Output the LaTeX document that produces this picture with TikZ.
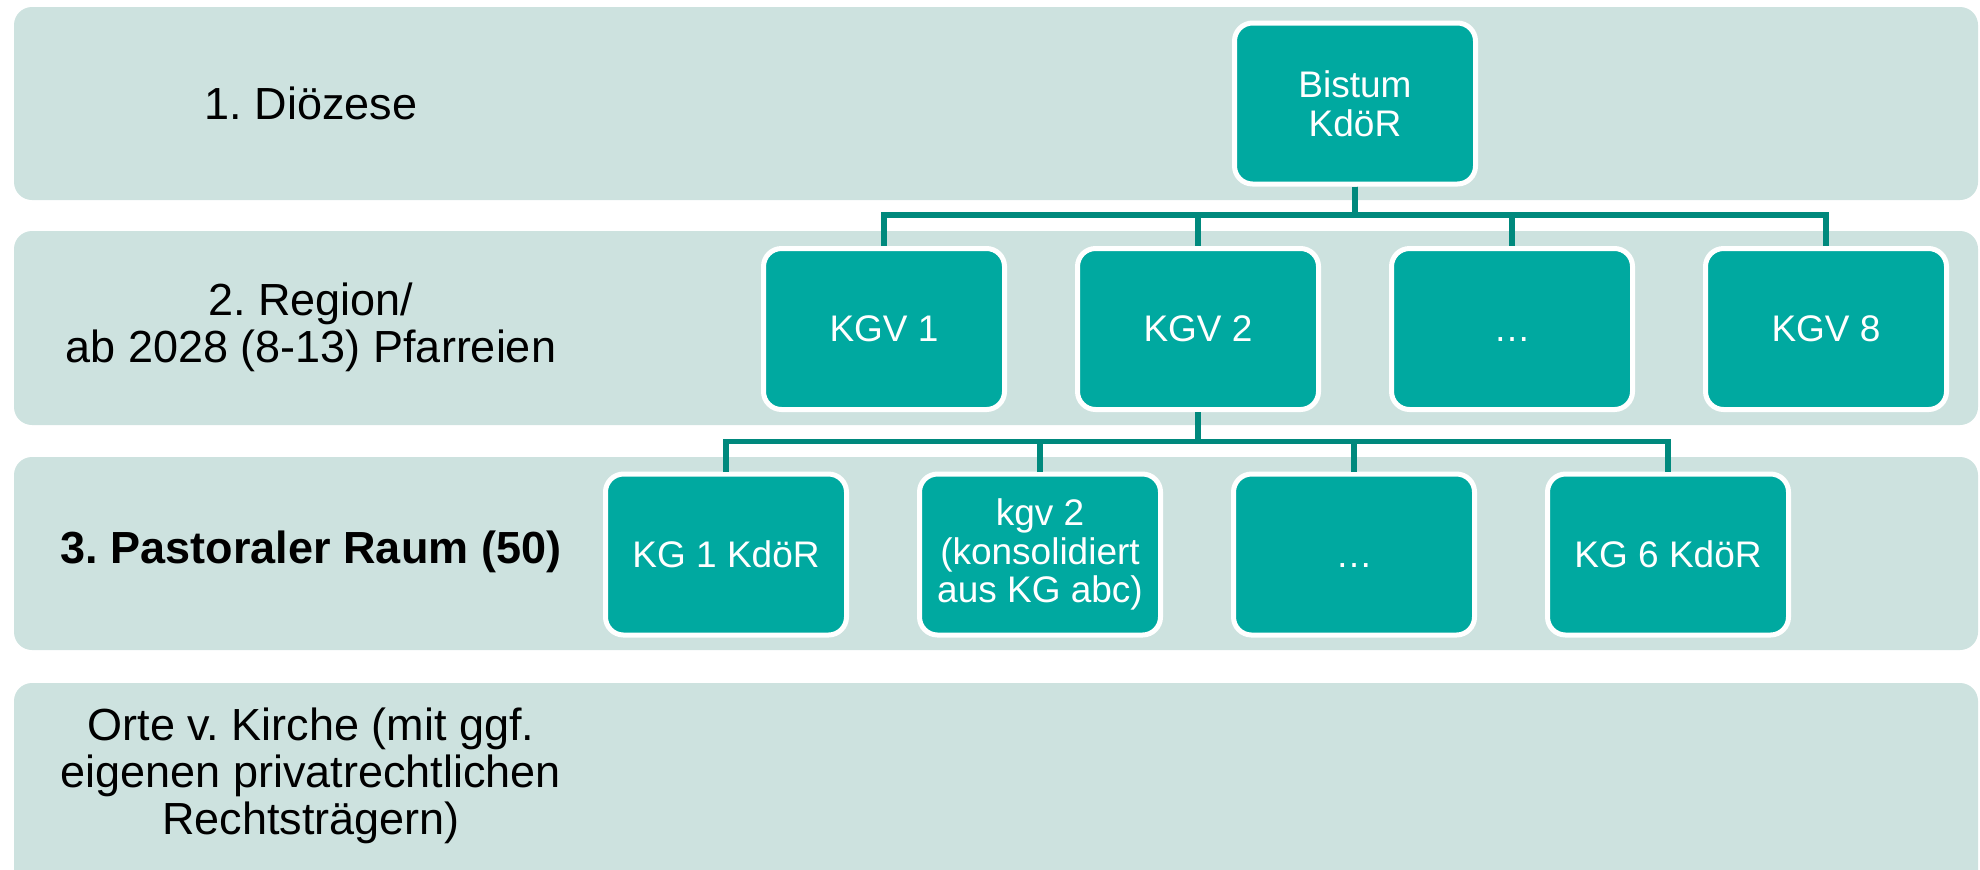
\documentclass[tikz,border=0pt]{standalone}
\usepackage{fontspec}
\setmainfont{Liberation Sans}
\frenchspacing
\usetikzlibrary{calc}
\definecolor{bandcol}{RGB}{205,226,223}
\definecolor{boxcol}{RGB}{0,169,160}
\definecolor{linecol}{RGB}{0,137,125}
\tikzset{
  band/.style={fill=bandcol, draw=none, rounded corners=9pt},
  orgbox/.style={rectangle, fill=boxcol, draw=white, line width=2.5pt, rounded corners=9pt,
    minimum width=120.5pt, minimum height=80.5pt, inner sep=0pt, text=white, align=center,
    font=\fontsize{18.5}{19.3}\selectfont},
  lvl/.style={align=center, text=black, inner sep=0pt, font=\fontsize{22.5}{23.6}\selectfont},
  conn/.style={draw=linecol, line width=2.8pt}
}
\begin{document}
\begin{tikzpicture}[x=0.5pt, y=-0.5pt]
\useasboundingbox (0,0) rectangle (1980,869);
% bands
\fill[band] (14,7) rectangle (1978,200);
\fill[band] (14,231) rectangle (1978,425);
\fill[band] (14,457) rectangle (1978,650);
\fill[band] (14,683) rectangle (1978,900);
% level labels
\node[lvl] (l1) at (311,103.5) {1. Diözese};
\node[lvl] (l2) at (311,327) {2. Region/\\ab 2028 (8-13) Pfarreien};
\node[lvl, font=\fontsize{22.5}{23.6}\selectfont\bfseries] (l3) at (311,552) {3. Pastoraler Raum (50)};
\node[lvl] (l4) at (311,776) {Orte v. Kirche (mit ggf.\\eigenen privatrechtlichen\\Rechtsträgern)};
% boxes
\node[orgbox] (bistum) at (1355,103.5) {Bistum\\KdöR};
\node[orgbox] (kgv1) at (884,329) {KGV 1};
\node[orgbox] (kgv2) at (1198,329) {KGV 2};
\node[orgbox] (kgvx) at (1512,329) {\vphantom{KG}…};
\node[orgbox] (kgv8) at (1826,329) {KGV 8};
\node[orgbox] (kg1) at (726,554.5) {KG 1 KdöR};
\node[orgbox] (kg2) at (1040,554.5) {kgv 2\\(konsolidiert\\aus KG abc)};
\node[orgbox] (kgx) at (1354,554.5) {\vphantom{KG}…};
\node[orgbox] (kg6) at (1668,554.5) {KG 6 KdöR};
% connectors
\coordinate (bus1) at (1355,215);
\coordinate (bus2) at (1198,441.5);
\foreach \n in {kgv1,kgv2,kgvx,kgv8}
  \draw[conn] (bistum.south) |- (\n.north |- bus1) -- (\n.north);
\foreach \n in {kg1,kg2,kgx,kg6}
  \draw[conn] (kgv2.south) |- (\n.north |- bus2) -- (\n.north);
\end{tikzpicture}
\end{document}
